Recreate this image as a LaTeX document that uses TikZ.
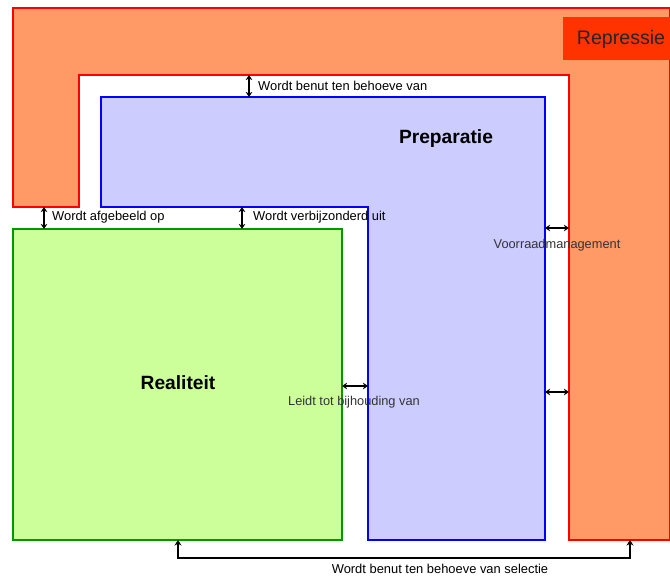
\documentclass[tikz,border=0pt]{standalone}
\usepackage{fontspec}
\setmainfont{Liberation Sans}
\usetikzlibrary{arrows.meta}
\definecolor{repfill}{HTML}{FF9966}
\definecolor{repbox}{HTML}{FF3300}
\definecolor{prepfill}{HTML}{CCCCFF}
\definecolor{realfill}{HTML}{CCFF99}
\definecolor{realline}{HTML}{009900}
\definecolor{graytext}{HTML}{333333}
\tikzset{
  area/.style={line width=1.1pt},
  link/.style={line width=2pt, {Stealth[length=5pt,width=6.5pt]}-{Stealth[length=5pt,width=6.5pt]}},
  lbl/.style={font=\fontsize{12.9}{14}\selectfont, inner sep=0pt, text=black},
  glbl/.style={font=\fontsize{12.8}{14}\selectfont, inner sep=0pt, text=graytext},
  title/.style={font=\fontsize{19.2}{21}\selectfont\bfseries, inner sep=0pt},
}
\begin{document}
\begin{tikzpicture}[x=1pt,y=-1pt]
\useasboundingbox (0,0) rectangle (670,576);
% Repressie area
\draw[area, draw=red, fill=repfill] (13,8) -- (670,8) -- (670,540) -- (569,540) -- (569,75) -- (79,75) -- (79,207) -- (13,207) -- cycle;
\node[fill=repbox, minimum width=107, minimum height=43, anchor=north west, inner sep=0pt] (repbox) at (563,17) {};
\node[font=\fontsize{19.6}{21}\selectfont, inner sep=0pt, text=black!85] (rep) at (621,39) {Repressie};
% Preparatie area
\draw[area, draw=blue, fill=prepfill] (101,97) -- (545,97) -- (545,540) -- (368,540) -- (368,207) -- (101,207) -- cycle;
\node[title] (prep) at (446,139) {Preparatie};
% Realiteit area
\draw[area, draw=realline, fill=realfill] (13,229) rectangle (342,540);
\node[title] (real) at (178,383) {Realiteit};
% connection points
\coordinate (rt1) at (249,75); \coordinate (pt1) at (249,97);
\coordinate (rl) at (44,207); \coordinate (gl1) at (44,229);
\coordinate (pb) at (242,207); \coordinate (gl2) at (242,229);
\coordinate (gr) at (342,386); \coordinate (pl) at (368,386);
\coordinate (pr1) at (545,228); \coordinate (ri1) at (569,228);
\coordinate (pr2) at (545,392); \coordinate (ri2) at (569,392);
\coordinate (gb) at (178,540); \coordinate (rb) at (630,540);
% connectors
\draw[link] (rt1) -- (pt1);
\draw[link] (rl) -- (gl1);
\draw[link] (pb) -- (gl2);
\draw[link] (gr) -- (pl);
\draw[link] (pr1) -- (ri1);
\draw[link] (pr2) -- (ri2);
\draw[line width=1.6pt, {Stealth[length=5.5pt,width=7pt]}-{Stealth[length=5.5pt,width=7pt]}] (gb) -- ++(0,18) -| (rb);
% labels
\node[lbl, anchor=west] (l1) at (258,86) {Wordt benut ten behoeve van};
\node[lbl, anchor=west] (l2) at (52,217) {Wordt afgebeeld op};
\node[lbl, anchor=west] (l3) at (253,217) {Wordt verbijzonderd uit};
\node[glbl] (l4) at (354,402) {Leidt tot bijhouding van};
\node[glbl] (l5) at (557,245) {Voorraadmanagement};
\node[lbl] (l6) at (440,569) {Wordt benut ten behoeve van selectie};
\end{tikzpicture}
\end{document}
